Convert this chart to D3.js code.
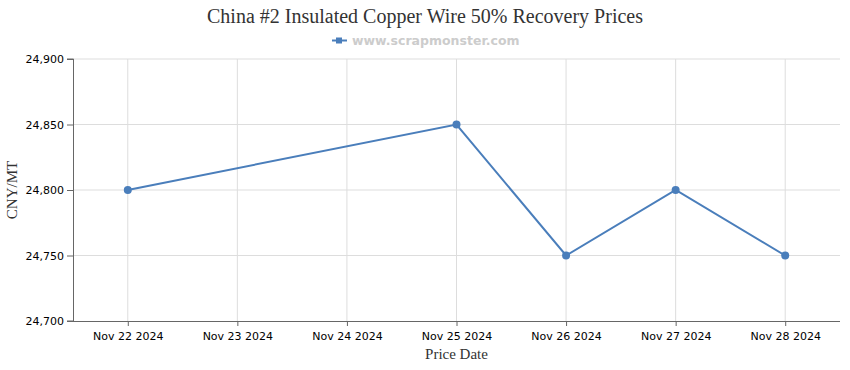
<!DOCTYPE html>
<html><head><meta charset="utf-8">
<script src="https://cdn.jsdelivr.net/npm/d3@7"></script>
<style>body{margin:0;background:#fff}svg{display:block}</style>
</head><body>
<svg id="c" width="850" height="370"></svg>
<script>
const title = "China #2 Insulated Copper Wire 50% Recovery Prices";
const legendLabel = "www.scrapmonster.com";
const dates = ["Nov 22 2024","Nov 23 2024","Nov 24 2024","Nov 25 2024","Nov 26 2024","Nov 27 2024","Nov 28 2024"];
const pointDates = ["Nov 22 2024","Nov 25 2024","Nov 26 2024","Nov 27 2024","Nov 28 2024"];
const values = [24800, 24850, 24750, 24800, 24750];
const yTicks = [24700, 24750, 24800, 24850, 24900];
const yLabel = "CNY/MT";
const xLabel = "Price Date";

const svg = d3.select("#c");
const m = {l:73, r:840, t:59, b:321};
const color = "#4a7ebb";
const x = d3.scalePoint().domain(dates).range([m.l, m.r]).padding(0.5);
const y = d3.scaleLinear().domain([24700, 24900]).range([m.b, m.t]);

// grid
svg.append("g").selectAll("line.h").data(yTicks.slice(1)).join("line")
  .attr("x1", m.l).attr("x2", m.r).attr("y1", d=>y(d)).attr("y2", d=>y(d))
  .attr("stroke", "#dddddd").attr("stroke-width", 1);
svg.append("g").selectAll("line.v").data(dates).join("line")
  .attr("x1", d=>x(d)).attr("x2", d=>x(d)).attr("y1", m.t).attr("y2", m.b)
  .attr("stroke", "#dddddd").attr("stroke-width", 1);

// axes
const yAxis = svg.append("g").attr("transform", `translate(${m.l},0)`)
  .call(d3.axisLeft(y).tickValues(yTicks).tickFormat(d3.format(",")).tickSize(6).tickPadding(3));
const xAxis = svg.append("g").attr("transform", `translate(0,${m.b})`)
  .call(d3.axisBottom(x).tickSize(5).tickPadding(6));
[yAxis, xAxis].forEach(g => {
  g.select(".domain").attr("stroke", "#666");
  g.selectAll(".tick line").attr("stroke", "#666");
  g.selectAll("text").attr("fill", "#000").style("font-family", "DejaVu Sans").style("font-size", "11px");
});
xAxis.select(".domain").attr("d", `M${m.l},0.5H${m.r}`);
yAxis.select(".domain").attr("d", `M-6,${y(24900)}H0.5V${m.b}H-6`);

// line
const pts = pointDates.map((d,i)=>({d, v: values[i]}));
svg.append("path").datum(pts)
  .attr("d", d3.line().x(p=>x(p.d)).y(p=>y(p.v)))
  .attr("fill","none").attr("stroke", color).attr("stroke-width", 2);
svg.append("g").selectAll("circle").data(pts).join("circle")
  .attr("cx", p=>x(p.d)).attr("cy", p=>y(p.v)).attr("r", 4).attr("fill", color);

// title
svg.append("text").attr("x", 425).attr("y", 23).attr("text-anchor","middle")
  .style("font-family","Liberation Serif").style("font-size","20px").attr("fill","#333").text(title);
// legend
svg.append("line").attr("x1", 332).attr("x2", 347).attr("y1", 40.5).attr("y2", 40.5)
  .attr("stroke", color).attr("stroke-width", 2);
svg.append("rect").attr("x", 336).attr("y", 37.5).attr("width", 6).attr("height", 6).attr("fill", color);
svg.append("text").attr("x", 352).attr("y", 45).style("font-family","DejaVu Sans").style("font-weight","bold")
  .style("font-size","12.5px").attr("fill","#cccccc").text(legendLabel);
// axis labels
svg.append("text").attr("transform", `translate(17,${(m.t+m.b)/2}) rotate(-90)`).attr("text-anchor","middle")
  .style("font-family","Liberation Serif").style("font-size","15px").attr("fill","#333").text(yLabel);
svg.append("text").attr("x", (m.l+m.r)/2).attr("y", 359).attr("text-anchor","middle")
  .style("font-family","Liberation Serif").style("font-size","15px").attr("fill","#333").text(xLabel);
</script>
</body></html>
